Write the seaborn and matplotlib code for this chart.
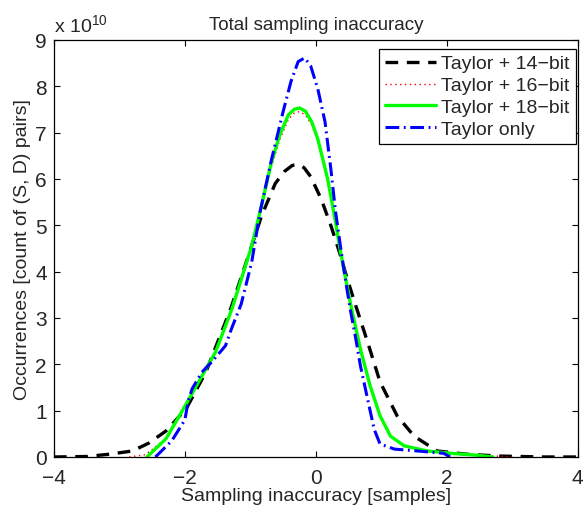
import numpy as np
import seaborn as sns
import matplotlib
matplotlib.use("Agg")
import matplotlib.pyplot as plt
from matplotlib.ticker import ScalarFormatter

# values, y in units of 1e10
x_14 = [-4, -3.5, -3.15, -2.8, -2.55, -2.29, -1.98, -1.68, -1.48, -1.3, -1.03, -0.83, -0.62,
        -0.48, -0.36, -0.27, -0.18, -0.08, 0.08, 0.23, 0.36, 0.48, 0.61, 0.79, 0.98, 1.24,
        1.5, 1.85, 2.3, 2.8, 3.5, 4]
y_14 = [0, 0.01, 0.06, 0.13, 0.3, 0.56, 1.04, 1.83, 2.55, 3.2, 4.34, 5.2, 5.9,
        6.16, 6.29, 6.31, 6.24, 6.05, 5.57, 4.99, 4.42, 3.84, 3.26, 2.48, 1.62, 0.89,
        0.45, 0.13, 0.06, 0.02, 0.0, 0]

x_16 = [-2.85, -2.6, -2.29, -2.05, -1.79, -1.53, -1.28, -0.98, -0.83, -0.68, -0.55, -0.42,
        -0.33, -0.25, -0.16, -0.06, 0.03, 0.18, 0.3, 0.38, 0.53, 0.68, 0.83, 0.98, 1.14,
        1.35, 1.7, 2.05, 2.45, 2.75, 3.0]
y_16 = [0, 0.05, 0.4, 0.97, 1.62, 2.27, 3.2, 4.55, 5.4, 6.25, 6.85, 7.28,
        7.42, 7.45, 7.38, 7.15, 6.82, 5.97, 5.05, 4.4, 3.3, 2.33, 1.55, 0.9, 0.46,
        0.25, 0.13, 0.08, 0.04, 0.02, 0]

x_18 = [-2.58, -2.29, -2.05, -1.79, -1.53, -1.28, -0.98, -0.83, -0.68, -0.55, -0.42, -0.33,
        -0.25, -0.16, -0.06, 0.03, 0.18, 0.3, 0.38, 0.53, 0.68, 0.83, 0.98, 1.14, 1.35, 1.7,
        2.05, 2.45, 2.7]
y_18 = [0, 0.39, 0.97, 1.62, 2.27, 3.2, 4.55, 5.42, 6.35, 6.95, 7.38, 7.5,
        7.53, 7.46, 7.22, 6.86, 6.0, 5.07, 4.4, 3.3, 2.33, 1.53, 0.89, 0.45, 0.24, 0.13,
        0.08, 0.04, 0.0]

x_only = [-2.45, -2.2, -2.0, -1.95, -1.89, -1.74, -1.59, -1.38, -1.29, -1.14, -0.98, -0.85,
          -0.68, -0.5, -0.38, -0.27, -0.17, -0.08, 0.03, 0.14, 0.23, 0.3, 0.38, 0.46, 0.53,
          0.61, 0.68, 0.79, 0.89, 0.98, 1.2, 1.55, 1.95, 2.05]
y_only = [0, 0.35, 0.8, 1.2, 1.47, 1.83, 2.05, 2.4, 2.76, 3.3, 4.2, 5.3,
          6.4, 7.45, 8.1, 8.53, 8.61, 8.44, 7.94, 7.23, 6.2, 5.3, 4.5, 3.75, 3.15,
          2.55, 1.97, 1.25, 0.6, 0.28, 0.17, 0.13, 0.08, 0]

labels = ["Taylor + 14\u2212bit", "Taylor + 16\u2212bit", "Taylor + 18\u2212bit", "Taylor only"]

sns.set_theme(style="ticks")
plt.rcParams["font.family"] = ["Liberation Sans", "DejaVu Sans"]
plt.rcParams["mathtext.fontset"] = "custom"
plt.rcParams["mathtext.rm"] = "Liberation Sans"
plt.rcParams["axes.unicode_minus"] = True

fig = plt.figure(figsize=(5.86, 5.1), dpi=100)
ax = fig.add_axes([0.092, 0.102, 0.894, 0.818])

scale = 1e10
sns.lineplot(x=x_14, y=np.array(y_14) * scale, ax=ax, color="black", lw=2.4,
             linestyle=(0, (3.8, 2.6)), label=labels[0], sort=False, estimator=None)
sns.lineplot(x=x_16, y=np.array(y_16) * scale, ax=ax, color="red", lw=1.0,
             linestyle=(0, (1, 2.5)), label=labels[1], sort=False, estimator=None)
sns.lineplot(x=x_18, y=np.array(y_18) * scale, ax=ax, color="#00ff00", lw=2.4,
             linestyle="-", label=labels[2], sort=False, estimator=None)
sns.lineplot(x=x_only, y=np.array(y_only) * scale, ax=ax, color="blue", lw=2.2,
             linestyle=(0, (4.5, 1.5, 0.6, 1.5)), label=labels[3], sort=False, estimator=None)

ax.set_xlim(-4, 4)
ax.set_ylim(0, 9e10)
ax.set_xticks([-4, -2, 0, 2, 4])
ax.set_yticks(np.arange(0, 10) * 1e10)
fmt = ScalarFormatter()
fmt.set_powerlimits((0, 0))
ax.yaxis.set_major_formatter(fmt)
ax.yaxis.get_offset_text().set_visible(False)
ax.text(0.0, 1.018, r"x 10$^{\mathrm{10}}$", transform=ax.transAxes, ha="left",
        va="baseline", fontsize=14)

ax.tick_params(which="both", direction="in", top=True, right=True, length=4,
               width=0.8, labelsize=15, color="black")
ax.tick_params(axis="x", pad=8)
ax.tick_params(axis="y", pad=5)
for sp in ax.spines.values():
    sp.set_visible(True)
    sp.set_color("black")
    sp.set_linewidth(0.9)

ax.set_title("Total sampling inaccuracy", fontsize=13.5, pad=8)
ax.set_xlabel("Sampling inaccuracy [samples]", fontsize=14, labelpad=0)
ax.set_ylabel("Occurrences [count of (S, D) pairs]", fontsize=14, labelpad=3)

leg = ax.legend(loc="upper right", bbox_to_anchor=(0.996, 0.978), fontsize=14,
                frameon=True, fancybox=False, handlelength=2.6, borderpad=0.3,
                labelspacing=0.22, handletextpad=0.3, borderaxespad=0)
leg.get_frame().set_edgecolor("black")
leg.get_frame().set_linewidth(0.9)
leg.get_frame().set_alpha(1)

fig.savefig("out.png", dpi=100)
